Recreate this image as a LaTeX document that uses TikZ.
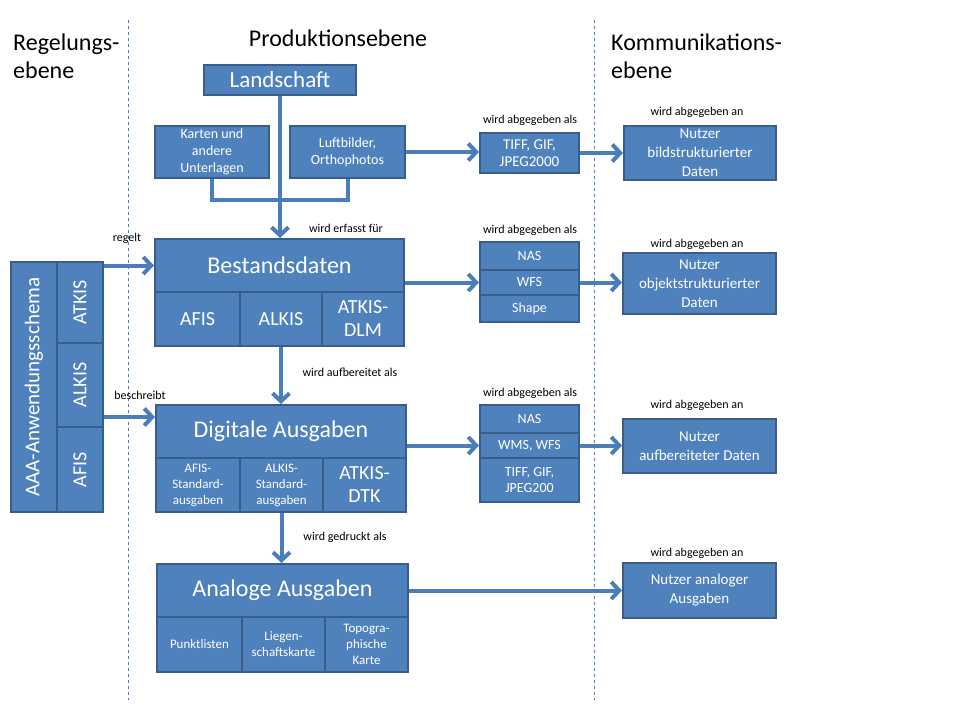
\documentclass[tikz,border=0pt]{standalone}
\usepackage{fontspec}
\setmainfont{Carlito}
\usepackage{graphicx}
\usetikzlibrary{arrows.meta}

\definecolor{boxblue}{HTML}{4F81BD}
\definecolor{boxline}{HTML}{385D8A}
\definecolor{arrowblue}{HTML}{4A7EBB}

\newcommand{\fHead}{\fontsize{24}{28}\selectfont}
\newcommand{\fTitle}{\fontsize{24}{28}\selectfont}
\newcommand{\fLand}{\fontsize{23}{26}\selectfont}
\newcommand{\fCell}{\fontsize{20}{23}\selectfont}
\newcommand{\fUser}{\fontsize{15}{19}\selectfont}
\newcommand{\fText}{\fontsize{14}{17}\selectfont}
\newcommand{\fSmall}{\fontsize{13}{16}\selectfont}
\newcommand{\fLabel}{\fontsize{12}{14}\selectfont}

\begin{document}
\begin{tikzpicture}[x=1pt, y=-1pt,
                blue_box/.style={rectangle, draw=boxline, line width=2pt, fill=boxblue, text=white, inner sep=0pt, align=center},
                box_size/.style 2 args={minimum width=#1pt, minimum height=#2pt},
                label_style/.style={inner sep=0pt, font=\fLabel},
                head_style/.style={inner sep=0pt, align=left, anchor=west, font=\fHead},
                arrow_style/.style={draw=arrowblue, line width=4pt, -{Straight Barb[length=8pt,width=17pt]}},
                line_style/.style={draw=arrowblue, line width=4pt},
                sep_style/.style={draw=arrowblue, line width=0.8pt, dash pattern=on 3pt off 3pt}]
                \useasboundingbox (0,0) rectangle (960,720);
                % Trennlinien und Ebenen
                \draw[sep_style] (128,20) -- (128,700);
                \draw[sep_style] (594,20) -- (594,700);
                \node[head_style] (hreg) at (13,56) {Regelungs-\\ebene};
                \node[head_style, anchor=center] (hprod) at (338,38) {Produktionsebene};
                \node[head_style] (hkom) at (611,56) {Kommunikations-\\ebene};

                % Regelungsebene
                \node[blue_box, box_size={46}{250}, font=\fontsize{21}{24}\selectfont] (aaa) at (34,387) {\rotatebox{90}{AAA-Anwendungsschema}};
                \node[blue_box, box_size={46}{81}, font=\fCell] (aatk) at (80,302.5) {\rotatebox{90}{ATKIS}};
                \node[blue_box, box_size={46}{84}, font=\fCell] (aalk) at (80,385) {\rotatebox{90}{ALKIS}};
                \node[blue_box, box_size={46}{85}, font=\fCell] (aafi) at (80,469.5) {\rotatebox{90}{AFIS}};

                % Produktionsebene
                \node[blue_box, box_size={152}{30}, font=\fLand] (land) at (280,80) {Landschaft};
                \node[blue_box, box_size={114}{52}, font=\fText] (kart) at (212,152) {Karten und\\andere\\Unterlagen};
                \node[blue_box, box_size={115}{52}, font=\fText] (luft) at (347.5,152) {Luftbilder,\\Orthophotos};
                \coordinate (join) at (280,200);

                \node[blue_box, box_size={249}{53}, font=\fTitle] (bd) at (279.5,265.5) {Bestandsdaten};
                \node[blue_box, box_size={85}{54}, font=\fCell] (bd1) at (197.5,319) {AFIS};
                \node[blue_box, box_size={82}{54}, font=\fCell] (bd2) at (281,319) {ALKIS};
                \node[blue_box, box_size={82}{54}, font=\fCell] (bd3) at (363,319) {ATKIS-\\DLM};

                \node[blue_box, box_size={250}{53}, font=\fTitle] (dg) at (281,431.5) {Digitale Ausgaben};
                \node[blue_box, box_size={84}{54}, font=\fSmall] (dg1) at (198,485) {AFIS-\\Standard-\\ausgaben};
                \node[blue_box, box_size={83}{54}, font=\fSmall] (dg2) at (281.5,485) {ALKIS-\\Standard-\\ausgaben};
                \node[blue_box, box_size={83}{54}, font=\fCell] (dg3) at (364.5,485) {ATKIS-\\DTK};
                \coordinate (dgin) at ([yshift=-13pt]dg.north west);

                \node[blue_box, box_size={251}{53}, font=\fTitle] (an) at (282.5,590.5) {Analoge Ausgaben};
                \node[blue_box, box_size={85}{55}, font=\fSmall] (an1) at (199.5,644.5) {Punktlisten};
                \node[blue_box, box_size={83}{55}, font=\fSmall] (an2) at (283.5,644.5) {Liegen-\\schaftskarte};
                \node[blue_box, box_size={83}{55}, font=\fSmall] (an3) at (366.5,644.5) {Topogra-\\phische\\Karte};

                % Formate
                \node[blue_box, box_size={99}{40}, font=\fontsize{15}{17}\selectfont] (bild) at (529.5,153) {TIFF, GIF,\\JPEG2000};
                \node[blue_box, box_size={99}{28}, font=\fText] (nas1) at (529.5,256) {NAS};
                \node[blue_box, box_size={99}{25}, font=\fText] (wfs) at (529.5,282.5) {WFS};
                \node[blue_box, box_size={99}{27}, font=\fText] (shp) at (529.5,308.5) {Shape};
                \node[blue_box, box_size={99}{28}, font=\fText] (nas2) at (529.5,419) {NAS};
                \node[blue_box, box_size={99}{25}, font=\fText] (wms) at (529.5,445.5) {WMS, WFS};
                \node[blue_box, box_size={99}{44}, font=\fontsize{14}{16}\selectfont] (tif) at (529.5,480) {TIFF, GIF,\\JPEG200};

                % Kommunikationsebene
                \node[blue_box, box_size={152}{54}, font=\fUser] (nbild) at (700,153) {Nutzer\\bildstrukturierter\\Daten};
                \node[blue_box, box_size={153}{61}, font=\fUser] (nobj) at (699.5,283.5) {Nutzer\\objektstrukturierter\\Daten};
                \node[blue_box, box_size={153}{54}, font=\fUser] (naufb) at (699.5,446) {Nutzer\\aufbereiteter Daten};
                \node[blue_box, box_size={153}{55}, font=\fUser] (nana) at (699.5,590.5) {Nutzer analoger\\Ausgaben};

                % Beschriftungen
                \node[label_style] (l_erf) at (346,228) {wird erfasst für};
                \node[label_style] (l_reg) at (127,238) {regelt};
                \node[label_style] (l_bes) at (140,395) {beschreibt};
                \node[label_style] (l_auf) at (350,372) {wird aufbereitet als};
                \node[label_style] (l_dru) at (345,537) {wird gedruckt als};
                \node[label_style] (l_als1) at (530,120) {wird abgegeben als};
                \node[label_style] (l_als2) at (530,230) {wird abgegeben als};
                \node[label_style] (l_als3) at (530,393) {wird abgegeben als};
                \node[label_style] (l_an1) at (697,112) {wird abgegeben an};
                \node[label_style] (l_an2) at (697,244) {wird abgegeben an};
                \node[label_style] (l_an3) at (697,405) {wird abgegeben an};
                \node[label_style] (l_an4) at (697,553) {wird abgegeben an};

                % Verbindungen
                \draw[line_style] (kart.south) |- (join) -| (luft.south);
                \draw[arrow_style] (land.south) -- (land.south |- bd.north);
                \draw[arrow_style] (luft.east) -- (luft.east -| bild.west);
                \draw[arrow_style] (bild.east) -- (bild.east -| nbild.west);
                \draw[arrow_style] (aatk.east |- bd.west) -- (bd.west);
                \draw[arrow_style] (aalk.east |- dgin) -- (dgin);
                \draw[arrow_style] (bd.east |- wfs.west) -- (wfs.west);
                \draw[arrow_style] (wfs.east) -- (wfs.east -| nobj.west);
                \draw[arrow_style] (bd2.south) -- (bd2.south |- dg.north);
                \draw[arrow_style] (dg.east |- wms.west) -- (wms.west);
                \draw[arrow_style] (wms.east) -- (wms.east -| naufb.west);
                \draw[arrow_style] (dg2.south) -- (dg2.south |- an.north);
                \draw[arrow_style] (an.east) -- (an.east -| nana.west);
            \end{tikzpicture}
\end{document}
